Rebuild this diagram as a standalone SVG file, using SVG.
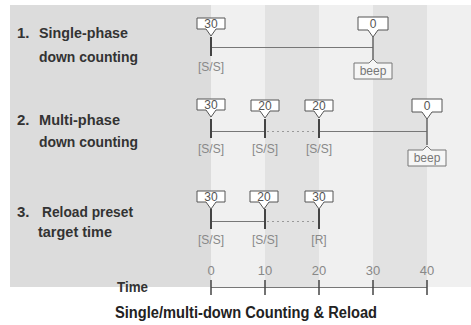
<svg xmlns="http://www.w3.org/2000/svg" width="471" height="325" viewBox="0 0 471 325">
<style>
.lbl{font-family:"Liberation Sans",Arial,sans-serif;font-weight:bold;font-size:15px;fill:#333}
.sm{font-family:"Liberation Sans",Arial,sans-serif;font-size:12px;fill:#888;text-anchor:middle}
.num{font-family:"Liberation Sans",Arial,sans-serif;font-size:12px;fill:#555;text-anchor:middle}
.co{fill:#fff;stroke:#555;stroke-width:1}
.bp{fill:#f6f6f6;stroke:#777;stroke-width:1}
.tk{stroke:#444;stroke-width:2}
.ln{stroke:#777;stroke-width:1;fill:none}
.dt{stroke:#999;stroke-width:1;stroke-dasharray:2,3;fill:none}
</style>
<defs>
<path id="callout" d="M-14,0 H14 V11 H5 L0,18 L-5,11 H-14 Z"/>
<path id="callout0" d="M-15,0 H15 V13 H5 L0,20 L-5,13 H-15 Z"/>
<path id="beep" d="M-19,0 H-4 L0,-4 L4,0 H19 V16 H-19 Z"/>
</defs>
<g id="background">
<rect x="0" y="0" width="471" height="325" fill="#fff"/>
<rect x="10" y="5" width="201" height="282" fill="#dcdcdc"/>
<rect x="211" y="5" width="260" height="282" fill="#f0f0f0"/>
<rect x="265" y="5" width="54" height="282" fill="#e2e2e2"/>
<rect x="373" y="5" width="54" height="282" fill="#e2e2e2"/>
</g>
<g id="labels">
<text class="lbl" x="17" y="38">1.</text>
<text class="lbl" x="39" y="38" textLength="89" lengthAdjust="spacingAndGlyphs">Single-phase</text>
<text class="lbl" x="39" y="62" textLength="99" lengthAdjust="spacingAndGlyphs">down counting</text>
<text class="lbl" x="17" y="125">2.</text>
<text class="lbl" x="39" y="125" textLength="81" lengthAdjust="spacingAndGlyphs">Multi-phase</text>
<text class="lbl" x="39" y="147" textLength="99" lengthAdjust="spacingAndGlyphs">down counting</text>
<text class="lbl" x="17" y="217">3.</text>
<text class="lbl" x="42" y="217" textLength="91" lengthAdjust="spacingAndGlyphs">Reload preset</text>
<text class="lbl" x="38" y="237" textLength="74" lengthAdjust="spacingAndGlyphs">target time</text>
</g>
<g id="connectors">
<line class="ln" x1="211" y1="47.5" x2="373" y2="47.5"/>
<line class="ln" x1="211" y1="131.5" x2="265" y2="131.5"/>
<line class="dt" x1="267" y1="131.5" x2="317" y2="131.5"/>
<line class="ln" x1="319" y1="131.5" x2="427" y2="131.5"/>
<line class="ln" x1="211" y1="221.5" x2="265" y2="221.5"/>
<line class="dt" x1="267" y1="221.5" x2="317" y2="221.5"/>
<line class="ln" x1="211" y1="287.5" x2="427" y2="287.5"/>
</g>
<g id="row1">
<g id="r1-30"><use href="#callout" class="co" x="211" y="18"/><text class="num" x="211" y="27.5">30</text><line class="tk" x1="211" y1="37" x2="211" y2="56"/><text class="sm" x="211" y="71">[S/S]</text></g>
<g id="r1-0"><use href="#callout0" class="co" x="373" y="17"/><text class="num" x="373" y="28">0</text><line class="tk" x1="373" y1="37" x2="373" y2="59" style="stroke:#666;stroke-width:1.5"/><use href="#beep" class="bp" x="373" y="63"/><text class="sm" x="373" y="75" style="fill:#777">beep</text></g>
</g>
<g id="row2">
<g id="r2-30"><use href="#callout" class="co" x="211" y="99"/><text class="num" x="211" y="108.5">30</text><line class="tk" x1="211" y1="119" x2="211" y2="138"/><text class="sm" x="211" y="153">[S/S]</text></g>
<g id="r2-20a"><use href="#callout" class="co" x="265" y="100"/><text class="num" x="265" y="109.5">20</text><line class="tk" x1="265" y1="119" x2="265" y2="138"/><text class="sm" x="265" y="153">[S/S]</text></g>
<g id="r2-20b"><use href="#callout" class="co" x="319" y="100"/><text class="num" x="319" y="109.5">20</text><line class="tk" x1="319" y1="119" x2="319" y2="138"/><text class="sm" x="319" y="153">[S/S]</text></g>
<g id="r2-0"><use href="#callout0" class="co" x="427" y="99"/><text class="num" x="427" y="110">0</text><line class="tk" x1="427" y1="119" x2="427" y2="145" style="stroke:#666;stroke-width:1.5"/><use href="#beep" class="bp" x="427" y="150"/><text class="sm" x="427" y="162" style="fill:#777">beep</text></g>
</g>
<g id="row3">
<g id="r3-30"><use href="#callout" class="co" x="211" y="191"/><text class="num" x="211" y="200.5">30</text><line class="tk" x1="211" y1="209" x2="211" y2="229"/><text class="sm" x="211" y="244">[S/S]</text></g>
<g id="r3-20"><use href="#callout" class="co" x="264" y="191"/><text class="num" x="264" y="200.5">20</text><line class="tk" x1="265" y1="209" x2="265" y2="229"/><text class="sm" x="265" y="244">[S/S]</text></g>
<g id="r3-30b"><use href="#callout" class="co" x="319" y="191"/><text class="num" x="319" y="200.5">30</text><line class="tk" x1="319" y1="209" x2="319" y2="229"/><text class="sm" x="319" y="244">[R]</text></g>
</g>
<g id="axis">
<text class="lbl" x="117" y="292" textLength="31" lengthAdjust="spacingAndGlyphs">Time</text>
<g class="tk" style="stroke-width:1.5"><line x1="211" y1="280" x2="211" y2="295"/><line x1="265" y1="280" x2="265" y2="295"/><line x1="319" y1="280" x2="319" y2="295"/><line x1="373" y1="280" x2="373" y2="295"/><line x1="427" y1="280" x2="427" y2="295"/></g>
<text class="sm" x="211" y="275" style="font-size:13px">0</text>
<text class="sm" x="265" y="275" style="font-size:13px">10</text>
<text class="sm" x="319" y="275" style="font-size:13px">20</text>
<text class="sm" x="373" y="275" style="font-size:13px">30</text>
<text class="sm" x="427" y="275" style="font-size:13px">40</text>
</g>
<g id="caption">
<text class="lbl" x="115" y="318" style="font-size:16px;fill:#222" textLength="262" lengthAdjust="spacingAndGlyphs">Single/multi-down Counting &amp; Reload</text>
</g>
</svg>
